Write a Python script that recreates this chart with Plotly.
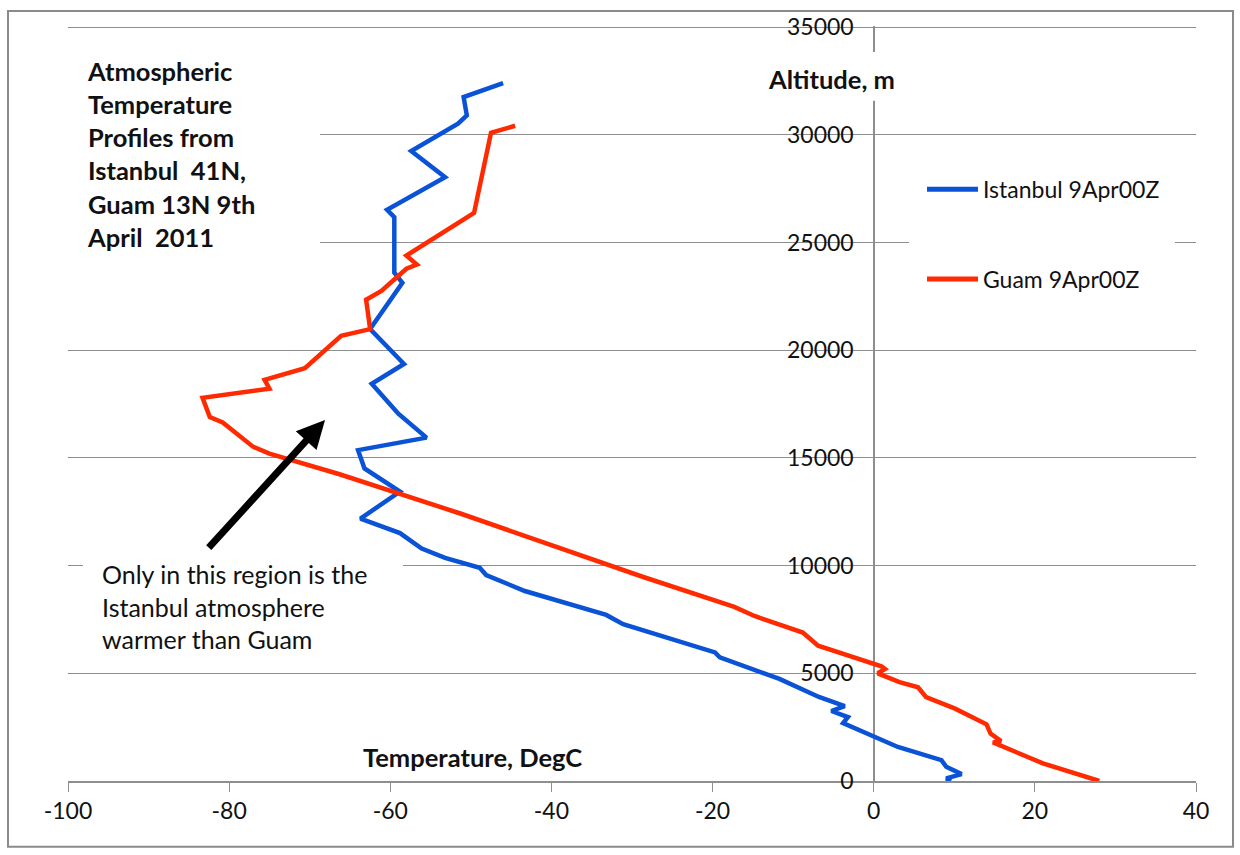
import plotly.graph_objects as go

# Radiosonde profiles, 9 April 2011 00Z: temperature (degC) against altitude (m)
istanbul_temp = [9.6, 9.0, 10.9, 9.0, 8.4, 3.0, -3.8, -3.2, -5.25, -3.6, -6.8, -11.7,
                 -19.1, -19.7, -31.1, -33.2, -43.3, -48.1, -48.9, -53.2, -56.1, -58.8,
                 -63.7, -58.8, -63.2, -64.0, -55.5, -59.0, -62.3, -58.3, -62.5, -58.5,
                 -59.5, -59.5, -60.4, -53.2, -57.4, -51.6, -50.5, -50.9, -46.0]
istanbul_alt = [0, 120, 320, 660, 970, 1580, 2690, 2970, 3250, 3480, 3900, 4740,
                5740, 5970, 7280, 7710, 8820, 9560, 9900, 10360, 10790, 11510,
                12180, 13440, 14510, 15360, 15940, 17050, 18440, 19360, 20980, 23130,
                23600, 26170, 26520, 28030, 29250, 30520, 30900, 31750, 32400]

guam_temp = [28.0, 21.0, 14.8, 15.8, 14.5, 14.0, 10.1, 6.5, 5.5, 3.2, 0.5, 1.4, 0.95,
             -6.9, -8.8, -14.8, -17.3, -28.6, -51.4, -66.3, -75.0, -77.0, -80.8, -82.4,
             -83.3, -75.0, -75.6, -70.6, -66.1, -62.5, -63.0, -61.1, -58.0, -56.7, -58.0,
             -49.6, -47.5, -44.5]
guam_alt = [0, 820, 1790, 1850, 2200, 2630, 3360, 3890, 4350, 4590, 5000, 5200, 5320,
            6280, 6890, 7660, 8080, 9470, 12430, 14240, 15200, 15510, 16640, 16900,
            17790, 18210, 18620, 19160, 20670, 20980, 22340, 22750, 23780, 23980, 24390,
            26370, 30090, 30420]

series_names = ["Istanbul 9Apr00Z", "Guam 9Apr00Z"]
series_colors = ["#0a52d6", "#ff2a00"]

x_ticks = [-100, -80, -60, -40, -20, 0, 20, 40]
x_tick_labels = ["-100", "-80", "-60", "-40", "-20", "0", "20", "40"]
y_ticks = [0, 5000, 10000, 15000, 20000, 25000, 30000, 35000]
y_tick_labels = ["0", "5000", "10000", "15000", "20000", "25000", "30000", "35000"]

W, H = 1240, 855
ML, MR, MT, MB = 68, 44, 23, 74
PW, PH = W - ML - MR, H - MT - MB


def px(x):
    return (x - ML) / PW


def py(y):
    return (H - MB - y) / PH


FONT = "Lato"
GRID = "#8e8e8e"
INK = "#111111"

fig = go.Figure()
fig.add_trace(go.Scatter(x=istanbul_temp, y=istanbul_alt, mode="lines",
                         name=series_names[0],
                         line=dict(color=series_colors[0], width=4.5)))
fig.add_trace(go.Scatter(x=guam_temp, y=guam_alt, mode="lines",
                         name=series_names[1],
                         line=dict(color=series_colors[1], width=4.5)))

shapes = []
# white panels behind the text blocks
for x0, y0, x1, y1 in [(60, 35, 320, 300), (909, 150, 1175, 320),
                       (83, 555, 403, 660), (765, 49, 897, 98)]:
    shapes.append(dict(type="rect", xref="paper", yref="paper",
                       x0=px(x0), x1=px(x1), y0=py(y1), y1=py(y0),
                       fillcolor="white", line=dict(width=0), layer="above"))
# outer frame
shapes.append(dict(type="rect", xref="paper", yref="paper",
                   x0=px(8), x1=px(1233), y0=py(847), y1=py(8),
                   line=dict(color="#8a8a8a", width=2), fillcolor="rgba(0,0,0,0)",
                   layer="above"))
# legend samples
for i, yy in enumerate([187, 277]):
    shapes.append(dict(type="line", xref="paper", yref="paper",
                       x0=px(927), x1=px(978), y0=py(yy), y1=py(yy),
                       line=dict(color=series_colors[i], width=5), layer="above"))

annotations = [
    dict(text="Atmospheric<br>Temperature<br>Profiles from<br>Istanbul  41N,<br>Guam 13N 9th<br>April  2011",
         xref="paper", yref="paper", x=px(85), y=py(51), xanchor="left", yanchor="top",
         align="left", showarrow=False,
         font=dict(family=FONT, size=25.5, color=INK, weight="bold")),
    dict(text="Only in this region is the<br>Istanbul atmosphere<br>warmer than Guam",
         xref="paper", yref="paper", x=px(100), y=py(556), xanchor="left", yanchor="top",
         align="left", showarrow=False,
         font=dict(family=FONT, size=25, color=INK)),
    dict(text="Temperature, DegC", xref="paper", yref="paper", x=px(472), y=py(757),
         xanchor="center", yanchor="middle", showarrow=False,
         font=dict(family=FONT, size=25.5, color=INK, weight="bold")),
    dict(text="Altitude, m", xref="paper", yref="paper", x=px(831), y=py(76),
         xanchor="center", yanchor="middle", showarrow=False,
         font=dict(family=FONT, size=25.5, color=INK, weight="bold")),
    dict(text="", x=-68.1, y=16760, ax=-82.7, ay=10760, xref="x", yref="y",
         axref="x", ayref="y", showarrow=True, arrowhead=2, arrowsize=0.8,
         arrowwidth=7, arrowcolor="#000000", standoff=0),
]
for i, yy in enumerate([187, 277]):
    annotations.append(dict(text=series_names[i], xref="paper", yref="paper",
                            x=px(981), y=py(yy), xanchor="left", yanchor="middle",
                            showarrow=False,
                            font=dict(family=FONT, size=23, color=INK)))

fig.update_layout(
    width=W, height=H,
    margin=dict(l=ML, r=MR, t=MT, b=MB),
    paper_bgcolor="white", plot_bgcolor="white",
    showlegend=False,
    font=dict(family=FONT, size=23, color=INK),
    shapes=shapes, annotations=annotations,
)
fig.update_xaxes(range=[-100, 40], tickvals=x_ticks, ticktext=x_tick_labels,
                 ticks="outside", ticklen=9,
                 tickcolor=GRID, showline=True, linecolor=GRID, linewidth=1.5,
                 showgrid=False, zeroline=True, zerolinecolor=GRID, zerolinewidth=1.5,
                 tickfont=dict(family=FONT, size=23, color=INK))
fig.update_yaxes(range=[0, 35050], tickvals=y_ticks, ticktext=y_tick_labels,
                 showgrid=True, gridcolor=GRID,
                 gridwidth=1, zeroline=False, showline=False, ticks="",
                 anchor="free", position=100 / 140, ticklabelstandoff=20,
                 tickfont=dict(family=FONT, size=23, color=INK))

fig.write_html("out.html")
